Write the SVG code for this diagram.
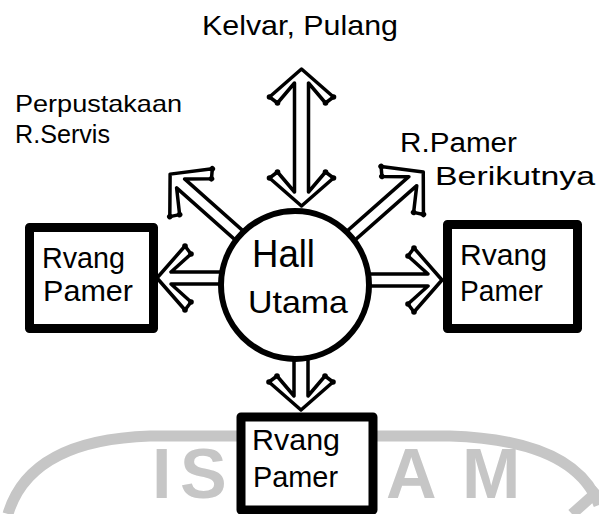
<svg xmlns="http://www.w3.org/2000/svg" width="599" height="514" viewBox="0 0 599 514">
<style>
.hw{font-family:"Liberation Sans",Arial,sans-serif;fill:#000}
.arrow{fill:#fff;stroke:#000;stroke-width:3.5;stroke-linejoin:round}
.dot{fill:#000}
.box{fill:#fff;stroke:#000;stroke-width:9;stroke-linejoin:round}
.wm{fill:#c6c6c6;font-family:"Liberation Sans",Arial,sans-serif;font-weight:bold}
.wmline{fill:none;stroke:#c6c6c6;stroke-width:11}
</style>
<rect width="599" height="514" fill="#fff"/>
<g id="watermark">
<path class="wmline" d="M8 514 Q30 440 150 436 L450 436 Q575 440 599 505"/>
<path class="wmline" d="M572 514 L599 490"/>
<text class="wm" font-size="70" y="498" x="152 180">IS</text>
<text class="wm" font-size="70" y="498" x="386 462">AM</text>
</g>
<g id="connectors">
<g transform="translate(301.5,206) rotate(-90)">
<path class="arrow" d="M0 0 L28 -32 L34 -24 L14 -7 L123 -7 L103 -24 L109 -32 L137 0 L109 32 L103 24 L123 7 L14 7 L34 24 L28 32 Z"/>
<circle class="dot" cx="28" cy="-32" r="2.8"/><circle class="dot" cx="34" cy="-24" r="2.8"/><circle class="dot" cx="28" cy="32" r="2.8"/><circle class="dot" cx="34" cy="24" r="2.8"/>
<circle class="dot" cx="109" cy="-32" r="2.8"/><circle class="dot" cx="103" cy="-24" r="2.8"/><circle class="dot" cx="109" cy="32" r="2.8"/><circle class="dot" cx="103" cy="24" r="2.8"/>
</g>
<g transform="translate(300,280)">
<path class="arrow" d="M0 -6 L128 -6 L108 -24 L114 -32 L142 0 L114 32 L108 24 L128 6 L0 6 Z"/>
<circle class="dot" cx="114" cy="-32" r="2.8"/><circle class="dot" cx="108" cy="-24" r="2.8"/><circle class="dot" cx="114" cy="32" r="2.8"/><circle class="dot" cx="108" cy="24" r="2.8"/>
</g>
<g transform="translate(290,278) rotate(180)">
<path class="arrow" d="M0 -6 L119 -6 L99 -24 L105 -32 L133 0 L105 32 L99 24 L119 6 L0 6 Z"/>
<circle class="dot" cx="105" cy="-32" r="2.8"/><circle class="dot" cx="99" cy="-24" r="2.8"/><circle class="dot" cx="105" cy="32" r="2.8"/><circle class="dot" cx="99" cy="24" r="2.8"/>
</g>
<g transform="translate(301,290) rotate(90)">
<path class="arrow" d="M0 -7 L106 -7 L86 -24 L92 -32 L120 0 L92 32 L86 24 L106 7 L0 7 Z"/>
<circle class="dot" cx="92" cy="-32" r="2.8"/><circle class="dot" cx="86" cy="-24" r="2.8"/><circle class="dot" cx="92" cy="32" r="2.8"/><circle class="dot" cx="86" cy="24" r="2.8"/>
</g>
<g transform="translate(295,285) rotate(221.6)">
<path class="arrow" d="M0 -6 L153 -6 L133 -24 L139 -32 L167 0 L139 32 L133 24 L153 6 L0 6 Z"/>
<circle class="dot" cx="139" cy="-32" r="2.8"/><circle class="dot" cx="133" cy="-24" r="2.8"/><circle class="dot" cx="139" cy="32" r="2.8"/><circle class="dot" cx="133" cy="24" r="2.8"/>
</g>
<g transform="translate(295,285) rotate(-41.4)">
<path class="arrow" d="M0 -6 L157 -6 L137 -24 L143 -32 L171 0 L143 32 L137 24 L157 6 L0 6 Z"/>
<circle class="dot" cx="143" cy="-32" r="2.8"/><circle class="dot" cx="137" cy="-24" r="2.8"/><circle class="dot" cx="143" cy="32" r="2.8"/><circle class="dot" cx="137" cy="24" r="2.8"/>
</g>
</g>
<g id="hall-utama">
<circle cx="295" cy="285" r="74" fill="#fff" stroke="#000" stroke-width="6"/>
<text class="hw" x="252" y="267" font-size="38" textLength="63" lengthAdjust="spacingAndGlyphs">Hall</text>
<text class="hw" x="248" y="313" font-size="32" textLength="100" lengthAdjust="spacingAndGlyphs">Utama</text>
</g>
<g id="ruang-pamer-left">
<rect class="box" x="29.5" y="227.5" width="124" height="101"/>
<text class="hw" x="42" y="268" font-size="30" textLength="83" lengthAdjust="spacingAndGlyphs">Rvang</text>
<text class="hw" x="43" y="301" font-size="30" textLength="90" lengthAdjust="spacingAndGlyphs">Pamer</text>
</g>
<g id="ruang-pamer-right">
<rect class="box" x="447.5" y="224.5" width="130" height="104"/>
<text class="hw" x="460" y="265" font-size="30" textLength="87" lengthAdjust="spacingAndGlyphs">Rvang</text>
<text class="hw" x="460" y="301" font-size="30" textLength="83" lengthAdjust="spacingAndGlyphs">Pamer</text>
</g>
<g id="ruang-pamer-bottom">
<rect class="box" x="241" y="417" width="132" height="93"/>
<text class="hw" x="252" y="450" font-size="30" textLength="88" lengthAdjust="spacingAndGlyphs">Rvang</text>
<text class="hw" x="253" y="487" font-size="30" textLength="85" lengthAdjust="spacingAndGlyphs">Pamer</text>
</g>
<g id="label-keluar">
<text class="hw" x="202" y="35" font-size="28" textLength="196" lengthAdjust="spacingAndGlyphs">Kelvar, Pulang</text>
</g>
<g id="label-perpustakaan">
<text class="hw" x="15" y="112" font-size="24" textLength="167" lengthAdjust="spacingAndGlyphs">Perpustakaan</text>
<text class="hw" x="15" y="143" font-size="25" textLength="95" lengthAdjust="spacingAndGlyphs">R.Servis</text>
</g>
<g id="label-pamer-berikutnya">
<text class="hw" x="400" y="152" font-size="27" textLength="117" lengthAdjust="spacingAndGlyphs">R.Pamer</text>
<text class="hw" x="435" y="185" font-size="26" textLength="160" lengthAdjust="spacingAndGlyphs">Berikutnya</text>
</g>
</svg>
